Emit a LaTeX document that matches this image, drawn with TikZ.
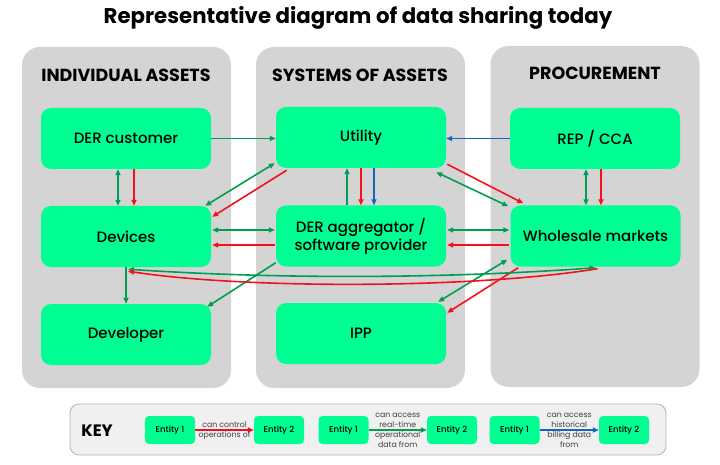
\documentclass[tikz,border=0pt]{standalone}
\usepackage{fontspec}
\setmainfont{Poppins}
\newfontfamily\medfont{Poppins Medium}
\usepackage{tikz}
\usetikzlibrary{calc}
\usetikzlibrary{arrows.meta}

\definecolor{panelgray}{HTML}{D4D4D4}
\definecolor{entgreen}{HTML}{00FF92}
\definecolor{arrgreen}{HTML}{009E4F}
\definecolor{arrred}{HTML}{F5101E}
\definecolor{arrblue}{HTML}{1565C0}
\definecolor{keyfill}{HTML}{F0F0F0}
\definecolor{keyline}{HTML}{B4B4B4}

\begin{document}
\begin{tikzpicture}[
        x=1pt, y=-1pt,
        panel/.style={fill=panelgray, rounded corners=18, minimum width=209, minimum height=341, inner sep=0},
        ptitle/.style={font=\bfseries\fontsize{17.5}{20}\selectfont},
        ent/.style={fill=entgreen, rounded corners=10, minimum width=170, minimum height=61, inner sep=0, align=center, font=\medfont\fontsize{15}{18}\selectfont},
        kent/.style={fill=entgreen, rounded corners=4, minimum width=50, minimum height=28, inner sep=0, font=\medfont\fontsize{8.5}{10}\selectfont},
        klbl/.style={inner sep=1.2, align=center, text=black!75, font=\fontsize{7.8}{10}\selectfont},
        tip/.style={-{Triangle[length=6pt,width=5pt]}},
        ga/.style={draw=arrgreen, line width=1.6, tip},
        gb/.style={draw=arrgreen, line width=1.6, {Triangle[length=6pt,width=5pt]}-{Triangle[length=6pt,width=5pt]}},
        ra/.style={draw=arrred, line width=1.6, tip},
        ba/.style={draw=arrblue, line width=1.6, tip}]

        \useasboundingbox (0,0) rectangle (720,465);

        \node[font=\bfseries\fontsize{21.3}{24}\selectfont] (title) at (358,18) {Representative diagram of data sharing today};

        \node[panel] (pind) at (126.5,217.5) {};
        \node[panel] (psys) at (360.5,217.5) {};
        \node[panel] (pproc) at (595,216.5) {};
        \node[ptitle] (tind) at (126,75) {INDIVIDUAL ASSETS};
        \node[ptitle] (tsys) at (360,75) {SYSTEMS OF ASSETS};
        \node[ptitle] (tproc) at (595,73) {PROCUREMENT};

        \node[ent] (dercust) at (126,138.5) {DER customer};
        \node[ent] (utility) at (361,137.5) {Utility};
        \node[ent] (rep) at (595,138.5) {REP / CCA};
        \node[ent] (devices) at (126,236.5) {Devices};
        \node[ent] (aggr) at (361,236) {DER aggregator /\\software provider};
        \node[ent] (wholesale) at (595.5,236) {Wholesale markets};
        \node[ent] (developer) at (126,334.5) {Developer};
        \node[ent] (ipp) at (361,333.5) {IPP};

        \draw[ga] (dercust.east) -- (dercust.east -| utility.west);
        \draw[ba] (rep.west) -- (rep.west -| utility.east);
        \draw[gb] ($(dercust.south)+(-8,0)$) -- ($(devices.north)+(-8,0)$);
        \draw[ra] ($(dercust.south)+(8,0)$) -- ($(devices.north)+(8,0)$);
        \draw[gb] ($(utility.south west)+(-1,-5)$) -- ($(devices.north east)+(-6,0)$);
        \draw[ra] ($(utility.south west)+(11,2)$) -- ($(devices.north east)+(1,11)$);
        \draw[gb] ($(devices.east)+(1,-6.5)$) -- ($(aggr.west)+(-1,-6)$);
        \draw[ra] ($(aggr.west)+(-1,9)$) -- ($(devices.east)+(1,8.5)$);
        \draw[ga] ($(aggr.north)+(-14,0)$) -- ($(utility.south)+(-14,0)$);
        \draw[ra] (utility.south) -- (aggr.north);
        \draw[ba] ($(utility.south)+(13,0)$) -- ($(aggr.north)+(13,0)$);
        \draw[gb] ($(utility.south east)+(-10,4)$) -- ($(wholesale.north west)+(-2,1)$);
        \draw[ra] ($(utility.south east)+(1,-4)$) -- ($(wholesale.north west)+(13,-2)$);
        \draw[gb] ($(aggr.east)+(1,-6)$) -- ($(wholesale.west)+(-1,-6)$);
        \draw[ra] ($(wholesale.west)+(-1,9)$) -- ($(aggr.east)+(1,9)$);
        \draw[gb] ($(rep.south)+(-9,0)$) -- ($(wholesale.north)+(-9.5,0)$);
        \draw[ra] ($(rep.south)+(6,0)$) -- ($(wholesale.north)+(5.5,0)$);
        \draw[ga] (devices.south) -- (developer.north);
        \draw[ga] ($(aggr.south west)+(0,-4)$) -- ($(developer.north east)+(-4,3)$);
        \draw[gb] ($(wholesale.south west)+(-3,-7)$) -- ($(ipp.north east)+(-8,-1)$);
        \draw[ra] ($(wholesale.south west)+(8,1)$) -- ($(ipp.north east)+(1,10)$);
        \draw[gb] ($(devices.south)+(2,2)$) .. controls ($(devices.south)+(150,12)$) and ($(wholesale.south)+(-150,12)$) .. ($(wholesale.south)+(0,1)$);
        \draw[ra] ($(wholesale.south)+(2,2)$) .. controls ($(wholesale.south)+(-120,22)$) and ($(devices.south)+(120,22)$) .. ($(devices.south)+(2,4)$);

        \node[fill=keyfill, draw=keyline, line width=0.8, rounded corners=9, minimum width=596, minimum height=51, inner sep=0] (keyb) at (368,429.5) {};
        \node[font=\bfseries\fontsize{16.5}{18}\selectfont] (keylbl) at (97,431) {KEY};
        \node[kent] (ka1) at (170,430) {Entity 1};
        \node[kent] (ka2) at (279,430) {Entity 2};
        \node[kent] (kb1) at (343.5,430) {Entity 1};
        \node[kent] (kb2) at (452,430) {Entity 2};
        \node[kent] (kc1) at (514.5,430) {Entity 1};
        \node[kent] (kc2) at (624,430) {Entity 2};

        \draw[ra] (ka1) -- (ka2) node[midway,above,klbl]{can control} node[midway,below,klbl]{operations of};
        \draw[ga] (kb1) -- (kb2) node[midway,above,klbl]{can access\\real-time} node[midway,below,klbl]{operational\\data from};
        \draw[ba] (kc1) -- (kc2) node[midway,above,klbl]{can access\\historical} node[midway,below,klbl]{billing data\\from};

    \end{tikzpicture}
\end{document}
